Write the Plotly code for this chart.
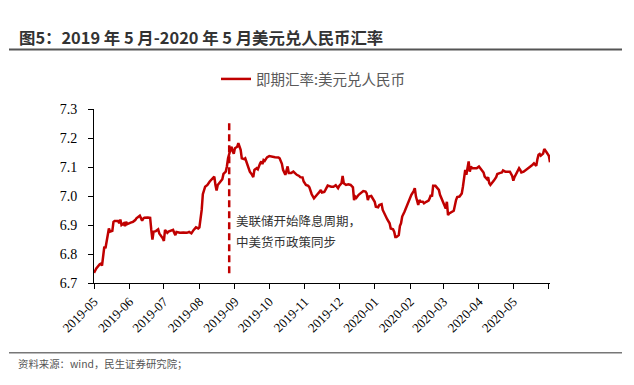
import plotly.graph_objects as go

# ---------------- data ----------------
dates = [
    "2019-05-01", "2019-05-03", "2019-05-06", "2019-05-07", "2019-05-08", "2019-05-09", "2019-05-10", "2019-05-11",
    "2019-05-12", "2019-05-13", "2019-05-14", "2019-05-15", "2019-05-17", "2019-05-18", "2019-05-19", "2019-05-22",
    "2019-05-23", "2019-05-24", "2019-05-25", "2019-05-27", "2019-05-28", "2019-05-29", "2019-05-30",
    "2019-06-02", "2019-06-04", "2019-06-06", "2019-06-07", "2019-06-10", "2019-06-11", "2019-06-12", "2019-06-13",
    "2019-06-14", "2019-06-17", "2019-06-19", "2019-06-20", "2019-06-21", "2019-06-22", "2019-06-24", "2019-06-26",
    "2019-06-27", "2019-06-30",
    "2019-07-01", "2019-07-02", "2019-07-04", "2019-07-05", "2019-07-07", "2019-07-09", "2019-07-10", "2019-07-11",
    "2019-07-12", "2019-07-15", "2019-07-18", "2019-07-21", "2019-07-23", "2019-07-25", "2019-07-27", "2019-07-29",
    "2019-07-31",
    "2019-08-01", "2019-08-03", "2019-08-04", "2019-08-06", "2019-08-08", "2019-08-10", "2019-08-13", "2019-08-14",
    "2019-08-15", "2019-08-16", "2019-08-17", "2019-08-18", "2019-08-19", "2019-08-21", "2019-08-22", "2019-08-24",
    "2019-08-25", "2019-08-26", "2019-08-28", "2019-08-29", "2019-08-30", "2019-08-31",
    "2019-09-01", "2019-09-03", "2019-09-04", "2019-09-06", "2019-09-07", "2019-09-09", "2019-09-10", "2019-09-12",
    "2019-09-13", "2019-09-14", "2019-09-16", "2019-09-17", "2019-09-18", "2019-09-20", "2019-09-21", "2019-09-22",
    "2019-09-23", "2019-09-24", "2019-09-25", "2019-09-26", "2019-09-27", "2019-09-28", "2019-09-29",
    "2019-10-01", "2019-10-03", "2019-10-06", "2019-10-09", "2019-10-10", "2019-10-12", "2019-10-13", "2019-10-15",
    "2019-10-16", "2019-10-17", "2019-10-18", "2019-10-20", "2019-10-22", "2019-10-23", "2019-10-25", "2019-10-27",
    "2019-10-28", "2019-10-30", "2019-10-31",
    "2019-11-02", "2019-11-04", "2019-11-05", "2019-11-07", "2019-11-09", "2019-11-10", "2019-11-12", "2019-11-14",
    "2019-11-15", "2019-11-16", "2019-11-18", "2019-11-19", "2019-11-21", "2019-11-22", "2019-11-24", "2019-11-26",
    "2019-11-28", "2019-11-30",
    "2019-12-01", "2019-12-03", "2019-12-04", "2019-12-05", "2019-12-07", "2019-12-09", "2019-12-11", "2019-12-13",
    "2019-12-14", "2019-12-15", "2019-12-16", "2019-12-18", "2019-12-19", "2019-12-21", "2019-12-22", "2019-12-24",
    "2019-12-25", "2019-12-26", "2019-12-27", "2019-12-29", "2019-12-30",
    "2020-01-01", "2020-01-02", "2020-01-04", "2020-01-05", "2020-01-07", "2020-01-08", "2020-01-10", "2020-01-11",
    "2020-01-12", "2020-01-14", "2020-01-15", "2020-01-17", "2020-01-18", "2020-01-19", "2020-01-20", "2020-01-22",
    "2020-01-23", "2020-01-24", "2020-01-25", "2020-01-27", "2020-01-29", "2020-01-31",
    "2020-02-02", "2020-02-04", "2020-02-05", "2020-02-06", "2020-02-07", "2020-02-08", "2020-02-09", "2020-02-10",
    "2020-02-12", "2020-02-13", "2020-02-15", "2020-02-17", "2020-02-18", "2020-02-19", "2020-02-20", "2020-02-21",
    "2020-02-23", "2020-02-25", "2020-02-26", "2020-02-27", "2020-02-29",
    "2020-03-02", "2020-03-03", "2020-03-04", "2020-03-05", "2020-03-06", "2020-03-08", "2020-03-09", "2020-03-10",
    "2020-03-12", "2020-03-13", "2020-03-15", "2020-03-17", "2020-03-18", "2020-03-19", "2020-03-20", "2020-03-21",
    "2020-03-22", "2020-03-23", "2020-03-24", "2020-03-25", "2020-03-26", "2020-03-28", "2020-03-30",
    "2020-04-01", "2020-04-02", "2020-04-04", "2020-04-05", "2020-04-06", "2020-04-08", "2020-04-09", "2020-04-10",
    "2020-04-11", "2020-04-13", "2020-04-14", "2020-04-16", "2020-04-17", "2020-04-19", "2020-04-21", "2020-04-22",
    "2020-04-24", "2020-04-26", "2020-04-28", "2020-04-30",
    "2020-05-01", "2020-05-02", "2020-05-04", "2020-05-06", "2020-05-07", "2020-05-08", "2020-05-10", "2020-05-12",
    "2020-05-15", "2020-05-17", "2020-05-19", "2020-05-21", "2020-05-22", "2020-05-23", "2020-05-24", "2020-05-25",
    "2020-05-27", "2020-05-28", "2020-05-30", "2020-05-31", "2020-06-01", "2020-06-02",
]

usdcny = [
    6.735, 6.750, 6.765, 6.767, 6.760, 6.800, 6.825, 6.820,
    6.848, 6.877, 6.888, 6.877, 6.880, 6.911, 6.914, 6.914,
    6.906, 6.919, 6.900, 6.906, 6.896, 6.911, 6.903,
    6.908, 6.911, 6.917, 6.923, 6.932, 6.923, 6.915, 6.922,
    6.925, 6.926, 6.925, 6.883, 6.850, 6.877, 6.879, 6.885,
    6.871, 6.854,
    6.845, 6.883, 6.873, 6.877, 6.879, 6.883, 6.873, 6.865,
    6.876, 6.873, 6.874, 6.873, 6.876, 6.871, 6.883, 6.892,
    6.888,
    6.892, 6.952, 7.006, 7.032, 7.038, 7.050, 7.064, 7.067,
    7.038, 7.019, 7.038, 7.044, 7.046, 7.058, 7.076, 7.084,
    7.102, 7.130, 7.159, 7.170, 7.154, 7.146,
    7.165, 7.170, 7.182, 7.159, 7.130, 7.127, 7.130, 7.107,
    7.090, 7.084, 7.073, 7.065, 7.090, 7.096, 7.092, 7.104,
    7.113, 7.119, 7.110, 7.124, 7.121, 7.127, 7.133,
    7.138, 7.136, 7.134, 7.133, 7.130, 7.111, 7.090, 7.073,
    7.084, 7.102, 7.079, 7.079, 7.084, 7.079, 7.073, 7.069,
    7.065, 7.064, 7.050,
    7.038, 7.035, 7.030, 7.006, 6.992, 6.998, 7.006, 7.015,
    7.021, 7.012, 7.014, 7.021, 7.036, 7.035, 7.032, 7.032,
    7.037, 7.027,
    7.035, 7.044, 7.069, 7.044, 7.038, 7.040, 7.038, 7.030,
    6.986, 6.998, 6.994, 7.004, 7.007, 7.015, 7.017, 7.015,
    7.009, 6.986, 6.998, 7.000, 6.992,
    6.980, 6.963, 6.961, 6.969, 6.972, 6.952, 6.934, 6.929,
    6.919, 6.906, 6.888, 6.885, 6.877, 6.859, 6.859, 6.865,
    6.896, 6.906, 6.929, 6.946, 6.965, 6.986,
    7.004, 7.017, 7.027, 6.998, 6.986, 6.969, 6.986, 6.980,
    6.980, 6.975, 6.980, 6.984, 6.992, 7.004, 6.998, 7.035,
    7.035, 7.027, 7.021, 7.004, 6.986,
    6.969, 6.957, 6.980, 6.934, 6.940, 6.946, 6.946, 6.949,
    6.986, 6.996, 6.998, 7.009, 7.032, 7.061, 7.090, 7.073,
    7.096, 7.119, 7.084, 7.102, 7.096, 7.096, 7.096,
    7.102, 7.096, 7.086, 7.081, 7.067, 7.058, 7.065, 7.044,
    7.038, 7.046, 7.053, 7.065, 7.076, 7.079, 7.081, 7.088,
    7.084, 7.084, 7.084, 7.069,
    7.053, 7.065, 7.079, 7.096, 7.090, 7.081, 7.084, 7.090,
    7.096, 7.105, 7.113, 7.104, 7.127, 7.142, 7.145, 7.139,
    7.146, 7.162, 7.151, 7.145, 7.139, 7.116,
]

tick_dates = ["2019-05-01", "2019-06-01", "2019-07-01", "2019-08-01", "2019-09-01", "2019-10-01", "2019-11-01",
              "2019-12-01", "2020-01-01", "2020-02-01", "2020-03-01", "2020-04-01", "2020-05-01", "2020-06-01"]
tick_labels = ["2019-05", "2019-06", "2019-07", "2019-08", "2019-09", "2019-10", "2019-11",
               "2019-12", "2020-01", "2020-02", "2020-03", "2020-04", "2020-05", ""]
y_ticks = [6.7, 6.8, 6.9, 7.0, 7.1, 7.2, 7.3]

series_name = "即期汇率:美元兑人民币"
title_text = "图5：2019 年 5 月-2020 年 5 月美元兑人民币汇率"
source_text = "资料来源：wind，民生证券研究院；"
event_date = "2019-08-27"
event_y = [6.734, 7.262]
event_label_y = 6.879
event_lines = ["美联储开始降息周期，", "中美货币政策同步"]

# ---------------- layout geometry ----------------
W, H = 634, 385
ML, MR, MT, MB = 94, 84, 109, 102
PW, PH = W - ML - MR, H - MT - MB


def px_x(x):
    return (x - ML) / PW


def px_y(y):
    return (H - MB - y) / PH


RED = "#C00000"
CJK = "Noto Sans CJK SC"
SERIF = "Liberation Serif, Times New Roman, serif"

fig = go.Figure()
fig.add_trace(go.Scatter(
    x=dates, y=usdcny, mode="lines", name=series_name,
    line=dict(color=RED, width=2.5),
))

fig.update_layout(
    width=W, height=H,
    margin=dict(l=ML, r=MR, t=MT, b=MB),
    paper_bgcolor="white", plot_bgcolor="white",
    showlegend=True,
    legend=dict(
        orientation="h", x=px_x(216), y=px_y(79), xanchor="left", yanchor="middle",
        font=dict(family=CJK, size=14.5, color="#595959"),
        bgcolor="rgba(0,0,0,0)", itemwidth=30,
    ),
    xaxis=dict(
        type="date", range=["2019-05-01", "2020-06-02"],
        tickmode="array", tickvals=tick_dates, ticktext=tick_labels,
        tickangle=-45, ticks="outside", ticklen=5, tickcolor="black",
        showline=True, linecolor="black", linewidth=1,
        showgrid=False, zeroline=False,
        tickfont=dict(family=SERIF, size=13, color="black"),
    ),
    yaxis=dict(
        range=[6.7, 7.3], tickmode="array", tickvals=y_ticks, tickformat=".1f",
        ticks="outside", ticklen=5, tickcolor="black", ticklabelstandoff=8,
        showline=True, linecolor="black", linewidth=1,
        showgrid=False, zeroline=False,
        tickfont=dict(family=SERIF, size=14, color="black"),
    ),
)

# event dashed line
fig.add_shape(type="line", xref="x", yref="y", x0=event_date, x1=event_date,
              y0=event_y[0], y1=event_y[1], line=dict(color=RED, width=2.5, dash="7px,4px"))
for txt, anchor in zip(event_lines, ["bottom", "top"]):
    fig.add_annotation(xref="x", yref="y", x=event_date, y=event_label_y, xanchor="left", yanchor=anchor,
                       xshift=6, text=txt, showarrow=False, align="left",
                       font=dict(family=CJK, size=12.5, color="#333333"),
                       borderpad=0)

# title and source
fig.add_annotation(xref="paper", yref="paper", x=px_x(17), y=px_y(37), xanchor="left", yanchor="middle",
                   text="<b>" + title_text + "</b>", showarrow=False,
                   font=dict(family=CJK, size=16.4, color="#333333"))
fig.add_shape(type="line", xref="paper", yref="paper", x0=px_x(9), x1=px_x(622),
              y0=px_y(49.5), y1=px_y(49.5), line=dict(color="#555555", width=2))
fig.add_shape(type="line", xref="paper", yref="paper", x0=px_x(9), x1=px_x(622),
              y0=px_y(352.7), y1=px_y(352.7), line=dict(color="#777777", width=1.5))
fig.add_annotation(xref="paper", yref="paper", x=px_x(16), y=px_y(363), xanchor="left", yanchor="middle",
                   text=source_text, showarrow=False,
                   font=dict(family=CJK, size=10.4, color="#555555"))

fig.write_html("out.html", config={"displayModeBar": False},
               post_script="document.body.style.margin='0px';")
